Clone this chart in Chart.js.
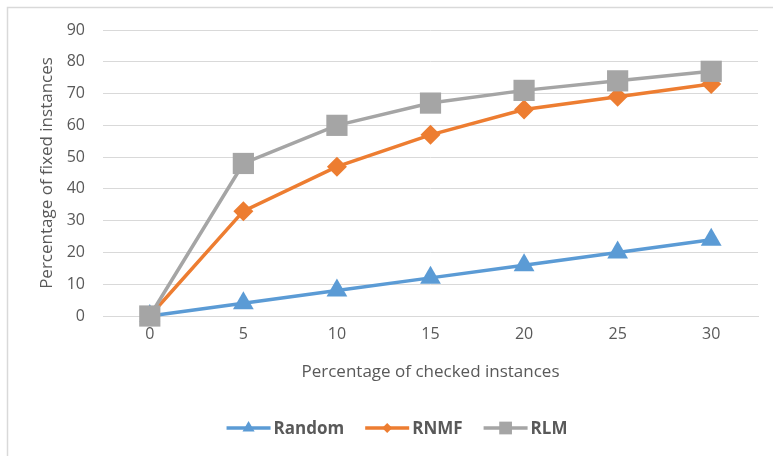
<!DOCTYPE html>
<html>
<head>
<meta charset="utf-8">
<script src="https://cdn.jsdelivr.net/npm/chart.js@4.4.1/dist/chart.umd.min.js"></script>
<style>
    html, body { margin: 0; padding: 0; background: #fff; }
    #wrap { width: 773px; height: 456px; position: relative; }
</style>
</head>
<body>
<div id="wrap"><canvas id="fixChart"></canvas></div>
<script>
const checked = ['0', '5', '10', '15', '20', '25', '30'];
const randomVals = [0, 4, 8, 12, 16, 20, 24];
const rnmfVals = [0, 33, 47, 57, 65, 69, 73];
const rlmVals = [0, 48, 60, 67, 71, 74, 77];
const yTicks = [0, 10, 20, 30, 40, 50, 60, 70, 80, 90];

const fontFamily = '"Open Sans", "Liberation Sans", sans-serif';
const textColor = '#595959';
const gridColor = '#d9d9d9';

// frame round the whole chart, like the office chart area
const framePlugin = {
    id: 'frame',
    beforeDraw: function (chart) {
        const ctx = chart.ctx;
        ctx.save();
        ctx.strokeStyle = '#d9d9d9';
        ctx.lineWidth = 1.5;
        ctx.strokeRect(7.5, 7.5, 2000, 2000);
        ctx.restore();
    },
};

// legend at the bottom with a short line through each marker
const lineLegend = {
    id: 'lineLegend',
    afterDraw: function (chart) {
        const ctx = chart.ctx;
        const sets = chart.data.datasets;
        const legendMarks = [7, 5, 9];
        const lineLen = 44;
        const gap = 3;
        const spacing = 21;
        const y = 428;
        ctx.save();
        ctx.font = 'bold 17px ' + fontFamily;
        let total = 0;
        const widths = sets.map(function (ds) {
            const w = lineLen + gap + ctx.measureText(ds.label).width;
            total += w;
            return w;
        });
        total += spacing * (sets.length - 1);
        let x = 397 - total / 2;
        sets.forEach(function (ds, i) {
            ctx.strokeStyle = ds.borderColor;
            ctx.lineWidth = 3.5;
            ctx.beginPath();
            ctx.moveTo(x, y);
            ctx.lineTo(x + lineLen, y);
            ctx.stroke();
            ctx.fillStyle = ds.backgroundColor;
            Chart.helpers.drawPoint(ctx, {
                pointStyle: ds.pointStyle,
                radius: legendMarks[i],
                borderWidth: 0,
            }, x + lineLen / 2, y);
            ctx.fillStyle = textColor;
            ctx.textBaseline = 'middle';
            ctx.textAlign = 'left';
            ctx.fillText(ds.label, x + lineLen + gap, y + 1);
            x += widths[i] + spacing;
        });
        ctx.restore();
    },
};

new Chart(document.getElementById('fixChart'), {
    type: 'line',
    data: {
        labels: checked,
        datasets: [
            {
                label: 'Random',
                data: randomVals,
                borderColor: '#5b9bd5',
                backgroundColor: '#5b9bd5',
                borderWidth: 3.5,
                pointStyle: 'triangle',
                pointRadius: 12,
                pointBorderWidth: 0,
                clip: false,
                order: 2,
            },
            {
                label: 'RNMF',
                data: rnmfVals,
                borderColor: '#ed7d31',
                backgroundColor: '#ed7d31',
                borderWidth: 3.5,
                pointStyle: 'rectRot',
                pointRadius: 10,
                pointBorderWidth: 0,
                clip: false,
                order: 1,
            },
            {
                label: 'RLM',
                data: rlmVals,
                borderColor: '#a5a5a5',
                backgroundColor: '#a5a5a5',
                borderWidth: 3.5,
                pointStyle: 'rect',
                pointRadius: 15,
                pointBorderWidth: 0,
                clip: false,
                order: 0,
            },
        ],
    },
    options: {
        responsive: true,
        maintainAspectRatio: false,
        animation: false,
        layout: {
            padding: { left: 37, right: 15, top: 30, bottom: 74 },
        },
        plugins: {
            legend: { display: false },
            tooltip: { enabled: false },
        },
        scales: {
            x: {
                offset: true,
                grid: { display: false, drawTicks: false },
                border: { display: true, color: gridColor, width: 1 },
                ticks: {
                    color: textColor,
                    font: { family: fontFamily, size: 16 },
                    padding: 9,
                    maxRotation: 0,
                    minRotation: 0,
                },
                title: {
                    display: true,
                    text: 'Percentage of checked instances',
                    color: textColor,
                    font: { family: fontFamily, size: 17 },
                    padding: 0,
                },
                afterFit: function (scale) {
                    scale.height = 66;
                },
            },
            y: {
                min: 0,
                max: 90,
                grid: { color: gridColor, lineWidth: 1, drawTicks: false },
                border: { display: false },
                afterBuildTicks: function (scale) {
                    scale.ticks = yTicks.map(function (v) {
                        return { value: v };
                    });
                },
                ticks: {
                    color: textColor,
                    font: { family: fontFamily, size: 16 },
                    padding: 18,
                },
                title: {
                    display: true,
                    text: 'Percentage of fixed instances',
                    color: textColor,
                    font: { family: fontFamily, size: 17 },
                    padding: 0,
                },
                afterFit: function (scale) {
                    scale.width = 66;
                },
            },
        },
    },
    plugins: [framePlugin, lineLegend],
});
</script>
</body>
</html>
